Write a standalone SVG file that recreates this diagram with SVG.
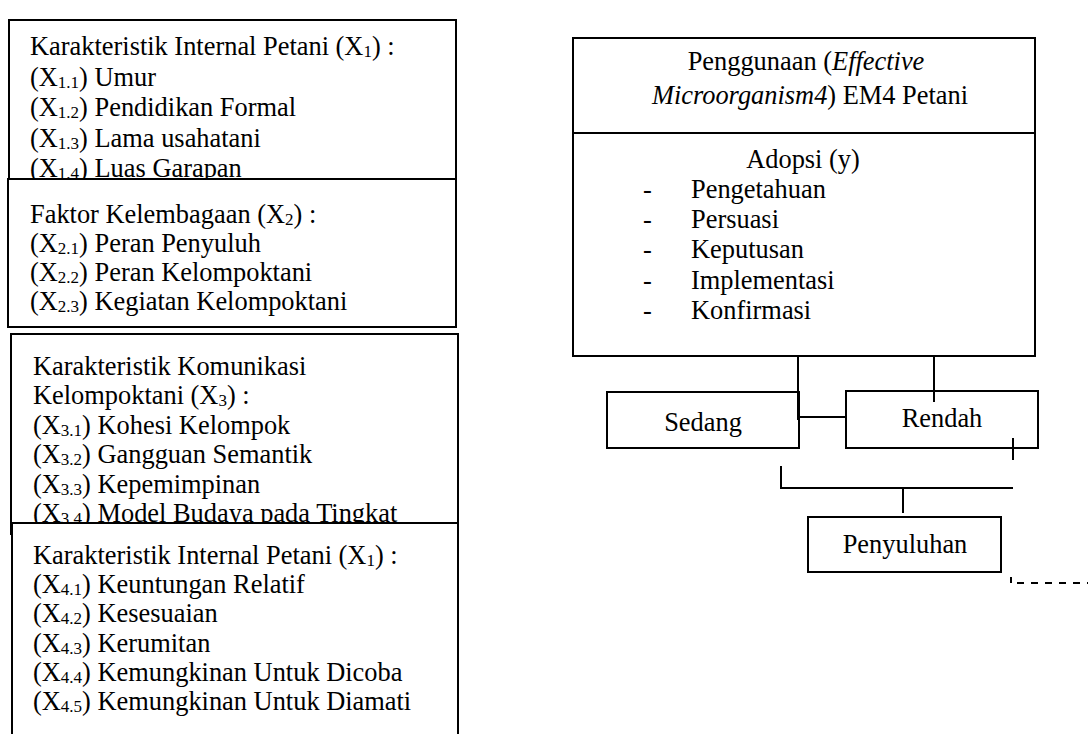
<svg xmlns="http://www.w3.org/2000/svg" width="1088" height="734" viewBox="0 0 1088 734">
<style>
text{font-family:"Liberation Serif","Times New Roman",serif;font-size:26.4px;fill:#000}
.sub{font-size:17px}
.box{fill:#fff;stroke:#000;stroke-width:2}
.ln{fill:none;stroke:#000;stroke-width:2}
.mid{text-anchor:middle}
</style>
<rect width="1088" height="734" fill="#fff"/>
<g id="x1">
<rect class="box" x="9" y="20" width="447" height="170"/>
<text x="30" y="55">Karakteristik Internal Petani (X<tspan class="sub" dy="2">1</tspan><tspan dy="-2">) :</tspan></text>
<text x="30" y="86">(X<tspan class="sub" dy="2">1.1</tspan><tspan dy="-2">) Umur</tspan></text>
<text x="30" y="116">(X<tspan class="sub" dy="2">1.2</tspan><tspan dy="-2">) Pendidikan Formal</tspan></text>
<text x="30" y="147">(X<tspan class="sub" dy="2">1.3</tspan><tspan dy="-2">) Lama usahatani</tspan></text>
<text x="30" y="177">(X<tspan class="sub" dy="2">1.4</tspan><tspan dy="-2">) Luas Garapan</tspan></text>
</g>
<g id="x2">
<rect class="box" x="8" y="179" width="448" height="148"/>
<text x="30" y="223">Faktor Kelembagaan (X<tspan class="sub" dy="2">2</tspan><tspan dy="-2">) :</tspan></text>
<text x="30" y="252">(X<tspan class="sub" dy="2">2.1</tspan><tspan dy="-2">) Peran Penyuluh</tspan></text>
<text x="30" y="281">(X<tspan class="sub" dy="2">2.2</tspan><tspan dy="-2">) Peran Kelompoktani</tspan></text>
<text x="30" y="310">(X<tspan class="sub" dy="2">2.3</tspan><tspan dy="-2">) Kegiatan Kelompoktani</tspan></text>
</g>
<g id="x3">
<rect class="box" x="11" y="334" width="447" height="200"/>
<text x="33" y="375">Karakteristik Komunikasi</text>
<text x="33" y="404">Kelompoktani (X<tspan class="sub" dy="2">3</tspan><tspan dy="-2">) :</tspan></text>
<text x="33" y="434">(X<tspan class="sub" dy="2">3.1</tspan><tspan dy="-2">) Kohesi Kelompok</tspan></text>
<text x="33" y="463">(X<tspan class="sub" dy="2">3.2</tspan><tspan dy="-2">) Gangguan Semantik</tspan></text>
<text x="33" y="493">(X<tspan class="sub" dy="2">3.3</tspan><tspan dy="-2">) Kepemimpinan</tspan></text>
<text x="33" y="522">(X<tspan class="sub" dy="2">3.4</tspan><tspan dy="-2">) Model Budaya pada Tingkat</tspan></text>
</g>
<g id="x4">
<rect class="box" x="12" y="523" width="446" height="220"/>
<text x="33" y="564">Karakteristik Internal Petani (X<tspan class="sub" dy="2">1</tspan><tspan dy="-2">) :</tspan></text>
<text x="33" y="593">(X<tspan class="sub" dy="2">4.1</tspan><tspan dy="-2">) Keuntungan Relatif</tspan></text>
<text x="33" y="622">(X<tspan class="sub" dy="2">4.2</tspan><tspan dy="-2">) Kesesuaian</tspan></text>
<text x="33" y="652">(X<tspan class="sub" dy="2">4.3</tspan><tspan dy="-2">) Kerumitan</tspan></text>
<text x="33" y="681">(X<tspan class="sub" dy="2">4.4</tspan><tspan dy="-2">) Kemungkinan Untuk Dicoba</tspan></text>
<text x="33" y="710">(X<tspan class="sub" dy="2">4.5</tspan><tspan dy="-2">) Kemungkinan Untuk Diamati</tspan></text>
</g>
<g id="adopsi">
<rect class="box" x="573" y="38" width="462" height="318"/>
<line class="ln" x1="573" y1="133" x2="1035" y2="133"/>
<text class="mid" x="806" y="70">Penggunaan (<tspan font-style="italic">Effective</tspan></text>
<text class="mid" x="810" y="104"><tspan font-style="italic">Microorganism4</tspan>) EM4 Petani</text>
<text class="mid" x="803" y="168">Adopsi (y)</text>
<text x="643" y="198">-</text><text x="691" y="198">Pengetahuan</text>
<text x="643" y="228">-</text><text x="691" y="228">Persuasi</text>
<text x="643" y="258">-</text><text x="691" y="258">Keputusan</text>
<text x="643" y="289">-</text><text x="691" y="289">Implementasi</text>
<text x="643" y="319">-</text><text x="691" y="319">Konfirmasi</text>
</g>
<g id="sedang">
<rect class="box" x="607" y="392" width="192" height="56"/>
<text class="mid" x="703" y="431">Sedang</text>
</g>
<g id="rendah">
<rect class="box" x="846" y="391" width="192" height="57"/>
<text class="mid" x="942" y="427">Rendah</text>
</g>
<g id="penyuluhan">
<rect class="box" x="808" y="517" width="193" height="55"/>
<text class="mid" x="905" y="553">Penyuluhan</text>
</g>
<g id="connectors">
<line class="ln" x1="798" y1="356" x2="798" y2="420"/>
<line class="ln" x1="934" y1="356" x2="934" y2="402"/>
<line class="ln" x1="799" y1="417" x2="846" y2="417"/>
<line class="ln" x1="1013" y1="438" x2="1013" y2="460"/>
<polyline class="ln" points="781,466 781,488 1013,488"/>
<line class="ln" x1="903" y1="488" x2="903" y2="513"/>
<line class="ln" x1="1011" y1="577" x2="1011" y2="583" stroke-width="1.5"/>
<line class="ln" x1="1011" y1="583" x2="1088" y2="583" stroke-dasharray="7 7" stroke-dashoffset="-6"/>
</g>
</svg>
